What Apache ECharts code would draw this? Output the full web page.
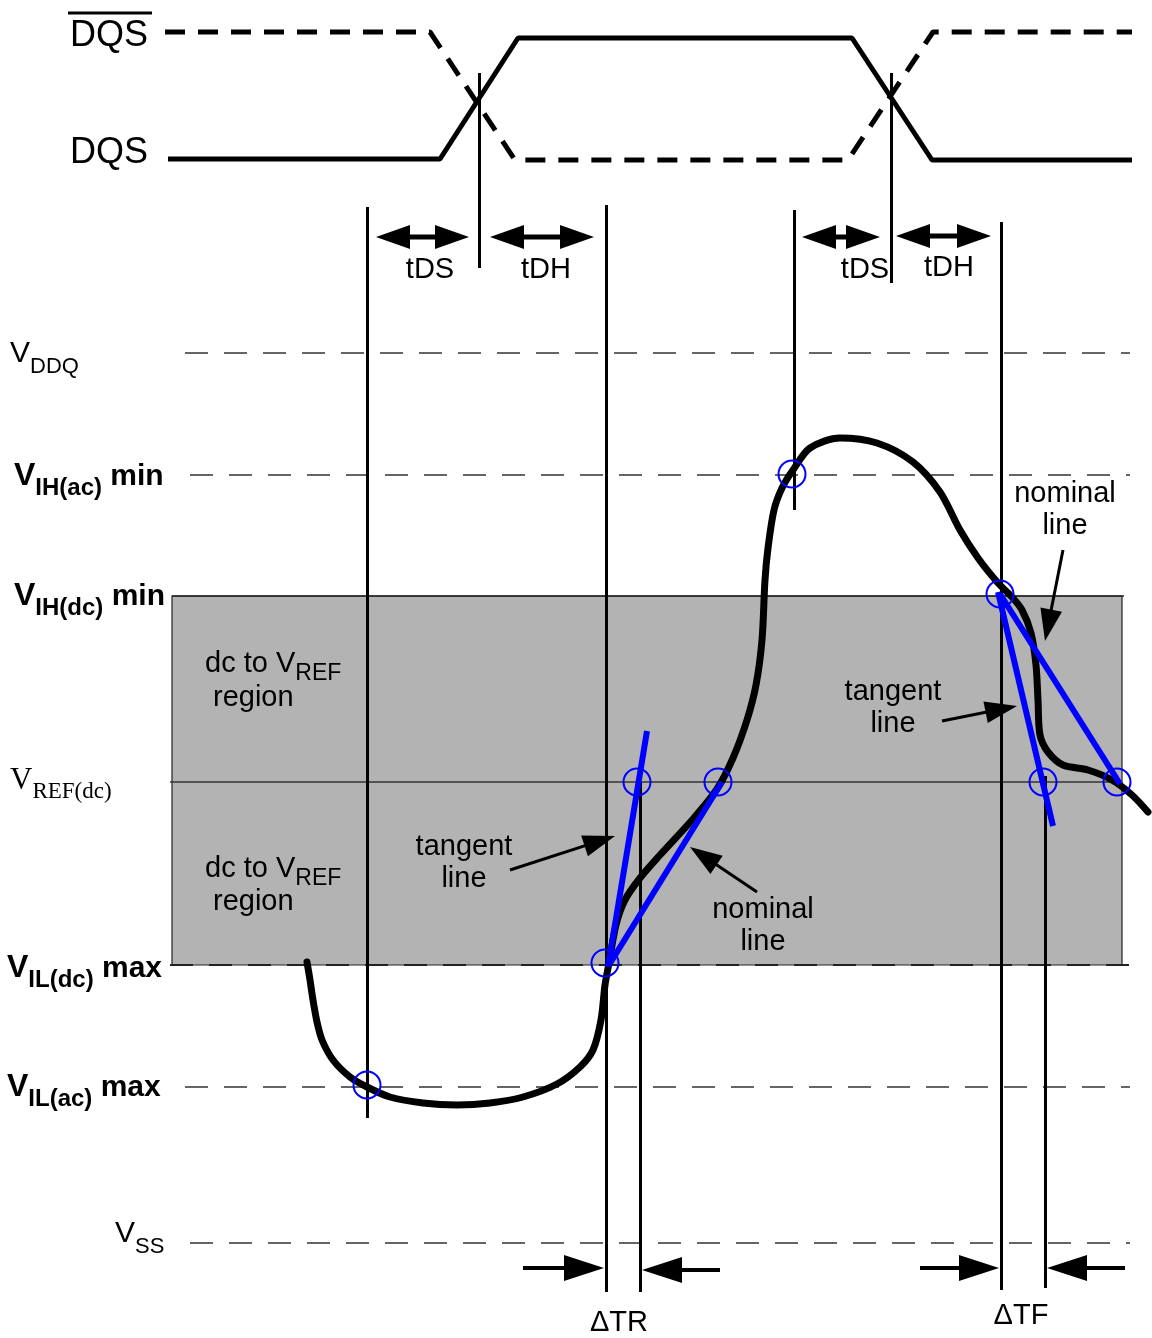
<!DOCTYPE html>
<html><head><meta charset="utf-8">
<script src="https://cdn.jsdelivr.net/npm/echarts@6/dist/echarts.min.js"></script>
<style>html,body{margin:0;padding:0;background:#fff}#c{width:1152px;height:1338px}</style>
</head><body><div id="c"></div>
<script>
// ---------- diagram data (x = time units, y = level units, both on 0..1152 / 0..1338 scales) ----------
const DQS_BAR_WAVE = [[165,32],[430,32],[515,160],[848,160],[933,32],[1132,32]];
const DQS_WAVE = [[168,159],[440,159],[518,38],[852,38],[932,160],[1132,160]];
const DQS_OVERLINE = [[68,13],[152,13]];
const SIGNAL = [[307,962],[310,980],[313,1000],[317,1022],[322,1040],[333,1060],[350,1077],[367,1087],[390,1097],[423,1103],[457,1105],[490,1103],[523,1097],[557,1084],[580,1067],[593,1050],[601,1020],[605,985],[609,963],[616,925],[625,900],[640,878],[660,855],[693,819],[717,789],[733,758],[747,720],[756,685],[762,640],[765,580],[768,548],[774,510],[782,488],[793,470],[810,448],[840,438],[877,443],[913,462],[940,492],[960,530],[978,558],[998,583],[1012,597],[1022,610],[1031,633],[1036,665],[1038,700],[1040,735],[1048,752],[1063,765],[1088,770],[1112,780],[1132,795],[1148,812]];
const TANGENT_RISE = [[608,967],[647,731]];
const NOMINAL_RISE = [[609,965],[722,782]];
const TANGENT_FALL = [[998,592],[1053,826]];
const NOMINAL_FALL = [[1000,594],[1120,784]];
const CROSS_POINTS = [[367,1085],[605,963],[637,782],[718,782],[792,474],[1000,594],[1043,782],[1117,782]];
// vertical markers: [x, yTop, yBottom]
const MARKERS = [[367,207,1118],[479,73,268],[606,205,1292],[640,782,1292],[794,210,510],[891,73,283],[1001,222,1290],[1045,776,1288]];
// voltage levels: [y, xStart, xEnd]
const LEVEL_VDDQ = [353,185,1130];
const LEVEL_VIH_AC = [475,190,1130];
const LEVEL_VIH_DC = [596,172,1124];
const LEVEL_VREF = [782,170,1122];
const LEVEL_VIL_DC = [965,170,1130];
const LEVEL_VIL_AC = [1087,185,1130];
const LEVEL_VSS = [1243,190,1130];
// dc-to-VREF shaded region [x0, y0, x1, y1]
const DC_REGION = [[172,596,1122,965]];
// arrows [xFrom, yFrom, xTo, yTo]
const ARROWS_TIMING = [[376,237,469,237],[490,237,594,237],[802,237,880,237],[896,236,991,236]];
const ARROWS_DELTA = [[523,1268,604,1268],[720,1270,642,1270],[920,1268,999,1268],[1125,1268,1047,1268]];
const ARROWS_NOTE = [[510,870,615,836],[757,892,690,847],[942,721,1017,706],[1063,550,1045,641]];

// ---------- styles ----------
const SANS = '"Liberation Sans", Arial, sans-serif';
const SERIF = '"Liberation Serif", "Times New Roman", serif';
const INK = '#000';
const BLUE = '#0000ff';
const RICH = {
  big: {fontFamily:SANS, fontSize:36, color:INK},
  v:  {fontFamily:SANS, fontSize:30, color:INK, verticalAlign:'bottom', padding:[0,0,9,0]},
  s:  {fontFamily:SANS, fontSize:22, color:INK, verticalAlign:'bottom'},
  vb: {fontFamily:SANS, fontSize:32, fontWeight:'bold', color:INK, verticalAlign:'bottom', padding:[0,0,8,0]},
  sb: {fontFamily:SANS, fontSize:24, fontWeight:'bold', color:INK, verticalAlign:'bottom'},
  mb: {fontFamily:SANS, fontSize:30, fontWeight:'bold', color:INK, verticalAlign:'bottom', padding:[0,0,8,0]},
  vs: {fontFamily:SERIF, fontSize:31, color:INK, verticalAlign:'bottom', padding:[0,0,7,0]},
  ss: {fontFamily:SERIF, fontSize:23, color:INK, verticalAlign:'bottom'},
  tv: {fontFamily:SANS, fontSize:29, color:INK, verticalAlign:'bottom', padding:[0,0,7,0]},
  ts: {fontFamily:SANS, fontSize:23, color:INK, verticalAlign:'bottom'}
};
// label layout: [x, y, align, text]
const LABELS = [
  [70,36,'left','{big|DQS}'],
  [70,153,'left','{big|DQS}'],
  [430,270,'center','tDS'],
  [546,270,'center','tDH'],
  [865,270,'center','tDS'],
  [949,268,'center','tDH'],
  [10,362,'left','{v|V}{s|DDQ}'],
  [14,484,'left','{vb|V}{sb|IH(ac)}{mb| min}'],
  [14,604,'left','{vb|V}{sb|IH(dc)}{mb| min}'],
  [10,787,'left','{vs|V}{ss|REF(dc)}'],
  [7,976,'left','{vb|V}{sb|IL(dc)}{mb| max}'],
  [7,1095,'left','{vb|V}{sb|IL(ac)}{mb| max}'],
  [115,1242,'left','{v|V}{s|SS}'],
  [205,669,'left','{tv|dc to V}{ts|REF}'],
  [213,698,'left','region'],
  [205,874,'left','{tv|dc to V}{ts|REF}'],
  [213,902,'left','region'],
  [464,863,'center','tangent\nline'],
  [763,926,'center','nominal\nline'],
  [893,708,'center','tangent\nline'],
  [1065,510,'center','nominal\nline'],
  [619,1323,'center','\u0394TR'],
  [1021,1316,'center','\u0394TF']
];

// ---------- helpers ----------
function poly(points, lineStyle, z) {
  return {type:'line', data:points, symbol:'none', showSymbol:false, silent:true, animation:false, z:z, lineStyle:lineStyle};
}
function segs(list, lineStyle, z) {
  return {type:'lines', coordinateSystem:'cartesian2d', silent:true, animation:false, z:z, polyline:false,
    data:list.map(c => ({coords:c})), lineStyle:Object.assign({opacity:1}, lineStyle), symbol:'none'};
}
function arrowSeries(list, head, double, z) {
  return {
    type:'custom', silent:true, animation:false, z:z, data:list, encode:{x:[0,2], y:[1,3]},
    renderItem: function(params, api) {
      const p0 = api.coord([api.value(0), api.value(1)]);
      const p1 = api.coord([api.value(2), api.value(3)]);
      const dx = p1[0]-p0[0], dy = p1[1]-p0[1];
      const L = Math.hypot(dx, dy); const ux = dx/L, uy = dy/L; const nx = -uy, ny = ux;
      const hw = head.width/2;
      function tri(tip, dir) {
        const bx = tip[0] - dir[0]*head.len, by = tip[1] - dir[1]*head.len;
        return {type:'polygon', shape:{points:[[tip[0],tip[1]],[bx+nx*hw,by+ny*hw],[bx-nx*hw,by-ny*hw]]}, style:{fill:'#000'}};
      }
      const a = double ? [p0[0]+ux*head.len*0.8, p0[1]+uy*head.len*0.8] : p0;
      const b = [p1[0]-ux*head.len*0.8, p1[1]-uy*head.len*0.8];
      const children = [
        {type:'line', shape:{x1:a[0], y1:a[1], x2:b[0], y2:b[1]}, style:{stroke:'#000', lineWidth:head.shaft}},
        tri(p1, [ux,uy])
      ];
      if (double) children.push(tri(p0, [-ux,-uy]));
      return {type:'group', children:children};
    }
  };
}

const thinDash = {color:'#333', width:1.5, type:[23,16]};
const levelSegs = [LEVEL_VDDQ, LEVEL_VIH_AC, LEVEL_VIL_AC, LEVEL_VSS].map(l => [[l[1],l[0]],[l[2],l[0]]]);

const chart = echarts.init(document.getElementById('c'), null, {renderer:'canvas'});
chart.setOption({
  animation:false,
  backgroundColor:'#fff',
  grid:{left:0, right:0, top:0, bottom:0},
  xAxis:{type:'value', min:0, max:1152, show:false},
  yAxis:{type:'value', min:0, max:1338, inverse:true, show:false},
  series:[
    // shaded dc region
    {type:'custom', silent:true, animation:false, z:1, data:DC_REGION, encode:{x:[0,2], y:[1,3]},
      renderItem:function(params, api){
        const a = api.coord([api.value(0), api.value(1)]);
        const b = api.coord([api.value(2), api.value(3)]);
        return {type:'rect', shape:{x:a[0], y:a[1], width:b[0]-a[0], height:b[1]-a[1]},
          style:{fill:'#b3b3b3', stroke:'#222', lineWidth:1.2}};
      }},
    segs(levelSegs, thinDash, 2),
    segs([[[LEVEL_VIH_DC[1],LEVEL_VIH_DC[0]],[LEVEL_VIH_DC[2],LEVEL_VIH_DC[0]]]], {color:'#222', width:1.5}, 2),
    segs([[[LEVEL_VREF[1],LEVEL_VREF[0]],[LEVEL_VREF[2],LEVEL_VREF[0]]]], {color:'#333', width:1.5}, 2),
    segs([[[LEVEL_VIL_DC[1],LEVEL_VIL_DC[0]],[LEVEL_VIL_DC[2],LEVEL_VIL_DC[0]]]], {color:'#222', width:2, type:[23,16]}, 3),
    // DQS waveforms
    poly(DQS_BAR_WAVE, {color:'#000', width:5, type:[20,13]}, 4),
    poly(DQS_WAVE, {color:'#000', width:5}, 4),
    poly(DQS_OVERLINE, {color:'#000', width:3}, 4),
    // vertical markers
    segs(MARKERS.map(m => [[m[0],m[1]],[m[0],m[2]]]), {color:'#000', width:3}, 5),
    // signal
    Object.assign(poly(SIGNAL, {color:'#000', width:7, cap:'round', join:'round'}, 6), {smooth:0.3}),
    // tangent / nominal lines
    poly(TANGENT_RISE, {color:BLUE, width:6}, 7),
    poly(NOMINAL_RISE, {color:BLUE, width:6}, 7),
    poly(TANGENT_FALL, {color:BLUE, width:6}, 7),
    poly(NOMINAL_FALL, {color:BLUE, width:6}, 7),
    // crossing circles
    {type:'scatter', silent:true, animation:false, z:8, data:CROSS_POINTS, symbol:'circle', symbolSize:27,
      itemStyle:{color:'rgba(0,0,0,0)', borderColor:BLUE, borderWidth:2, opacity:1}},
    // arrows
    arrowSeries(ARROWS_TIMING, {len:34, width:24, shaft:5}, true, 9),
    arrowSeries(ARROWS_DELTA, {len:40, width:26, shaft:4}, false, 9),
    arrowSeries(ARROWS_NOTE, {len:32, width:22, shaft:3}, false, 9),
    // texts
    {type:'scatter', silent:true, animation:false, z:10, symbolSize:0, itemStyle:{opacity:1},
      label:{show:true, position:'inside', verticalAlign:'middle', color:INK, fontFamily:SANS, fontSize:29, lineHeight:32, rich:RICH},
      data:LABELS.map(l => ({value:[l[0], l[1]], label:{align:l[2], formatter:l[3]}}))}
  ]
});
</script>
</body></html>
